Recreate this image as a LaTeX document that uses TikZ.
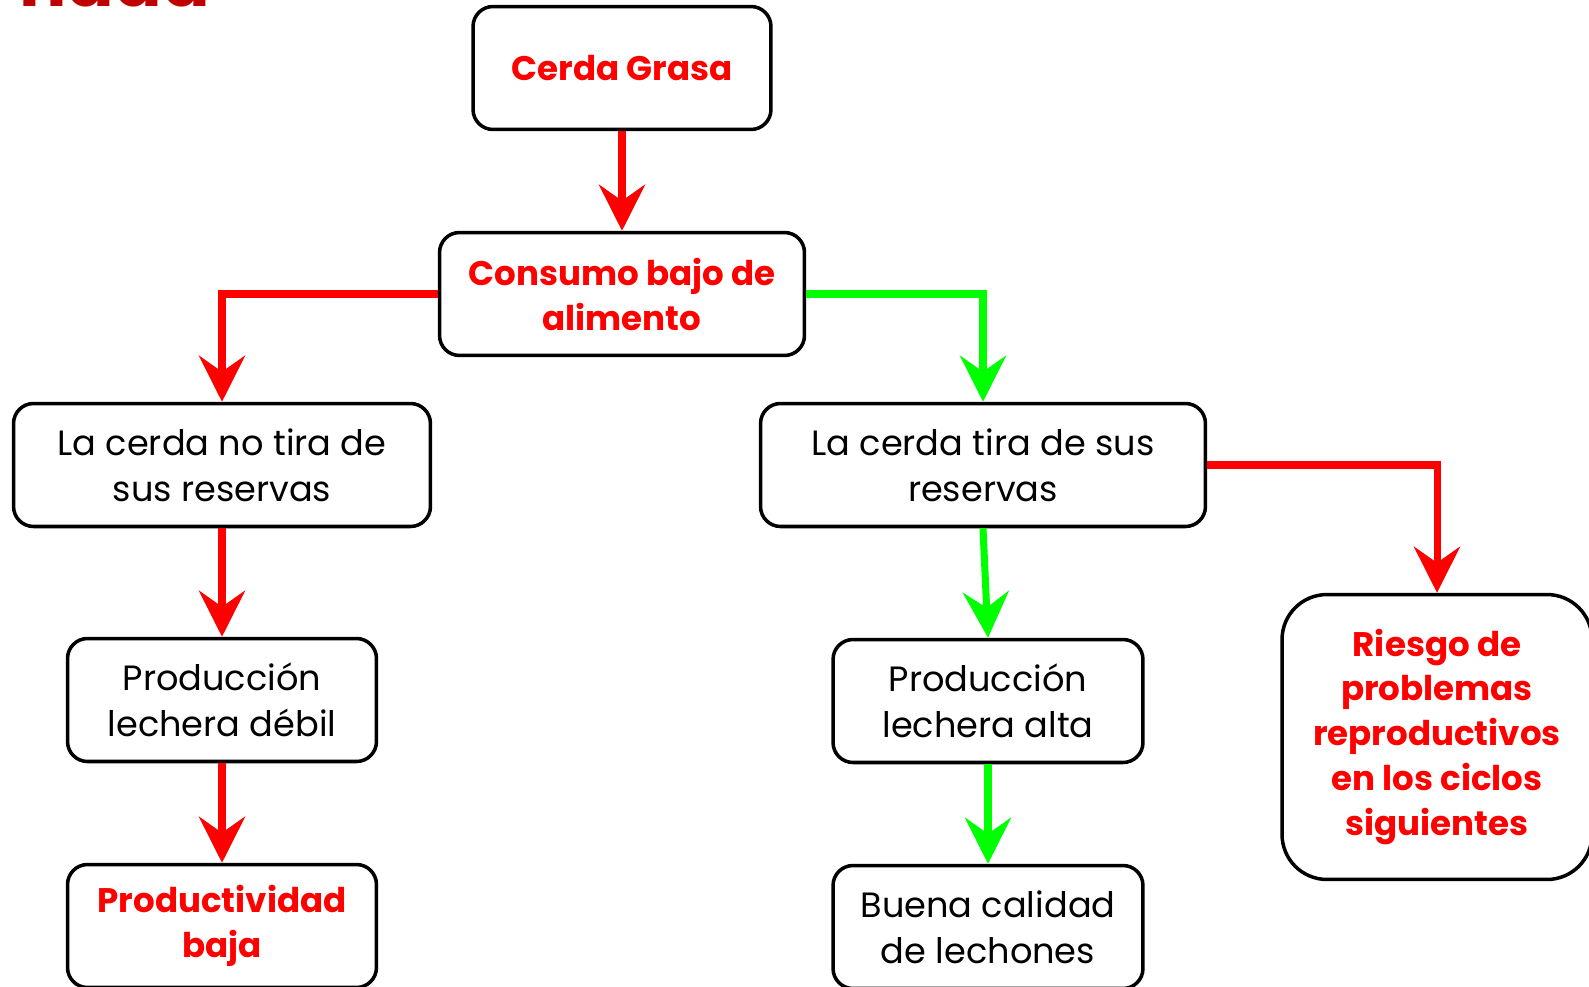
\documentclass[tikz,border=0pt]{standalone}
\usepackage{fontspec}
\setmainfont{Poppins}
\usetikzlibrary{arrows.meta}
\definecolor{fred}{rgb}{1, 0, 0}
\definecolor{fgreen}{rgb}{0, 1, 0}
\definecolor{tred}{rgb}{0.75, 0, 0}
\tikzset{box/.style = {draw, line width = 2pt, rounded corners = 0.4cm, align = center,
                       inner sep = 0pt, minimum height = 2.46cm,
                       font = \fontsize{20}{26}\selectfont},
         hot/.style = {text = fred, font = \fontsize{19.4}{25.6}\selectfont\bfseries},
         link/.style = {line width = 4pt,
                        -{Stealth[length = 0.92cm, width = 0.92cm, inset = 0.32cm]}}}

\begin{document}
\begin{tikzpicture}[x = 0.02cm, y = -0.02cm]
      \useasboundingbox (0, 0) rectangle (1589, 987);
      \node (title) at (13, 7) [anchor = base west, text = tred,
            font = \fontsize{40}{48}\selectfont\bfseries] {ndad};
      \node (cerda) at (622, 68) [box, hot, minimum width = 5.96cm] {Cerda Grasa};
      \node (consumo) at (622, 294) [box, hot, minimum width = 7.3cm] {Consumo bajo de\\alimento};
      \node (notira) at (222, 465) [box, minimum width = 8.34cm] {La cerda no tira de\\sus reservas};
      \node (tira) at (983, 465) [box, minimum width = 8.9cm] {La cerda tira de sus\\reservas};
      \node (debil) at (222, 700) [box, minimum width = 6.18cm] {Producción\\lechera débil};
      \node (baja) at (222, 926) [box, hot, minimum width = 6.18cm] {Productividad\\baja};
      \node (alta) at (988, 701) [box, minimum width = 6.2cm] {Producción\\lechera alta};
      \node (buena) at (988, 927) [box, minimum width = 6.2cm] {Buena calidad\\de lechones};
      \node (riesgo) at (1437, 737) [box, hot, rounded corners = 0.9cm, minimum width = 6.2cm,
            minimum height = 5.7cm] {Riesgo de\\problemas\\reproductivos\\en los ciclos\\siguientes};
      \draw [link, fred] (cerda) -- (consumo);
      \draw [link, fred] (consumo.west) -| (notira.north);
      \draw [link, fgreen] (consumo.east) -| (tira.north);
      \draw [link, fred] (tira.east) -| (riesgo.north);
      \draw [link, fgreen] (tira.south) -- (alta.north);
      \draw [link, fred] (notira) -- (debil);
      \draw [link, fred] (debil) -- (baja);
      \draw [link, fgreen] (alta) -- (buena);
    \end{tikzpicture}
\end{document}
